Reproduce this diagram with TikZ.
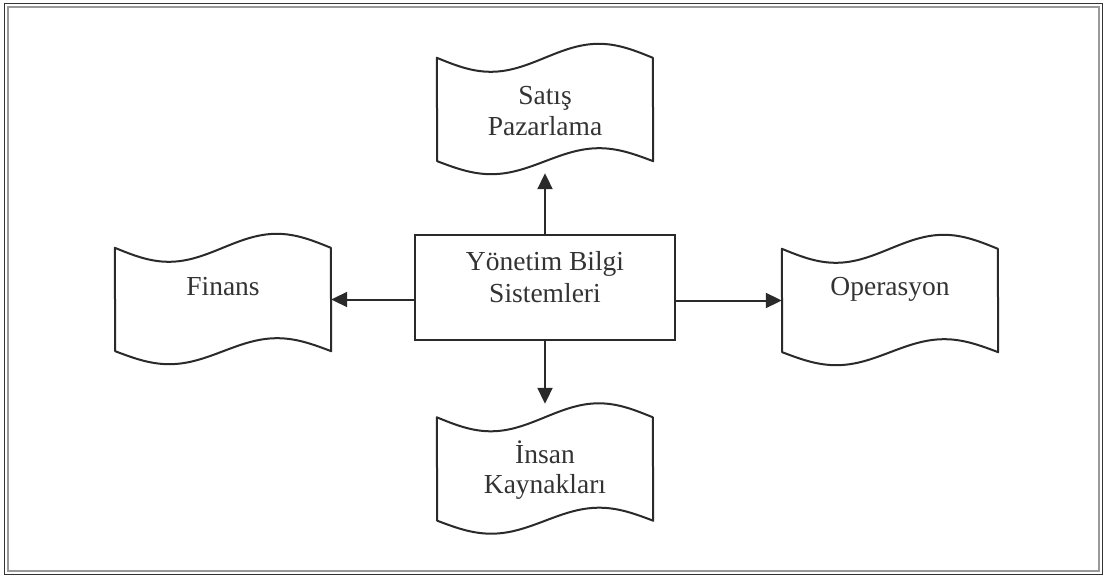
\documentclass[tikz,border=0pt]{standalone}
\usepackage{fontspec}
\setmainfont{Liberation Serif}
\usetikzlibrary{arrows.meta}
\definecolor{ink}{HTML}{2A2A2A}
\definecolor{txt}{HTML}{333333}
\newcommand\Lx{\rule[-4pt]{0pt}{29pt}}
\newcommand\tapeborder[1]{%
  \draw[tapeline] (#1.north west) sin ++(54,14) cos ++(54,-14) sin ++(54,-14) cos ++(54,14)
    -- (#1.south east) sin ++(-54,-13) cos ++(-54,13) sin ++(-54,13) cos ++(-54,-13) -- cycle;}
\tikzset{
  tapeline/.style={draw=ink, line width=2pt, line join=round},
  tape/.style={minimum width=216pt, minimum height=103pt, inner sep=0pt, align=center,
    font=\fontsize{27.5}{30}\selectfont, text=txt},
  mbsbox/.style={draw=ink, line width=2pt, minimum width=260pt, minimum height=105pt,
    inner sep=0pt, align=center, font=\fontsize{27.5}{32}\selectfont, text=txt},
  arr/.style={draw=ink, line width=2pt, -{Triangle[length=16pt,width=15pt]}},
}
\begin{document}
\begin{tikzpicture}[x=1pt,y=-1pt]
\useasboundingbox (0,0) rectangle (1105,577);
\fill[white] (0,0) rectangle (1105,577);
% frame
\draw[draw=black!80, line width=1.8pt] (4.5,3.5) rectangle (1102.5,574.5);
\draw[draw=black!40, line width=1.2pt] (8,7) rectangle (1099,571);
% nodes
\node[mbsbox] (mbs) at (545,287.5) {\Lx Yönetim Bilgi\\\Lx Sistemleri\\[-8pt]\Lx};
\node[tape] (sat) at (545,109.5) {\Lx Satış\\\Lx Pazarlama};
\node[tape] (fin) at (223,299.5) {\Lx Finans\\\Lx};
\node[tape] (ope) at (890,300.5) {\Lx Operasyon\\\Lx};
\node[tape] (ins) at (545,469) {\Lx İnsan\\\Lx Kaynakları};
\tapeborder{sat}
\tapeborder{fin}
\tapeborder{ope}
\tapeborder{ins}
% connectors
\draw[arr] (mbs.north) -- ([yshift=-12pt]sat.south);
\draw[arr] (mbs.south) -- ([yshift=13.5pt]ins.north);
\draw[arr] (mbs.west |- fin.east) -- (fin.east);
\draw[arr] (mbs.east |- ope.west) -- (ope.west);
\end{tikzpicture}
\end{document}
